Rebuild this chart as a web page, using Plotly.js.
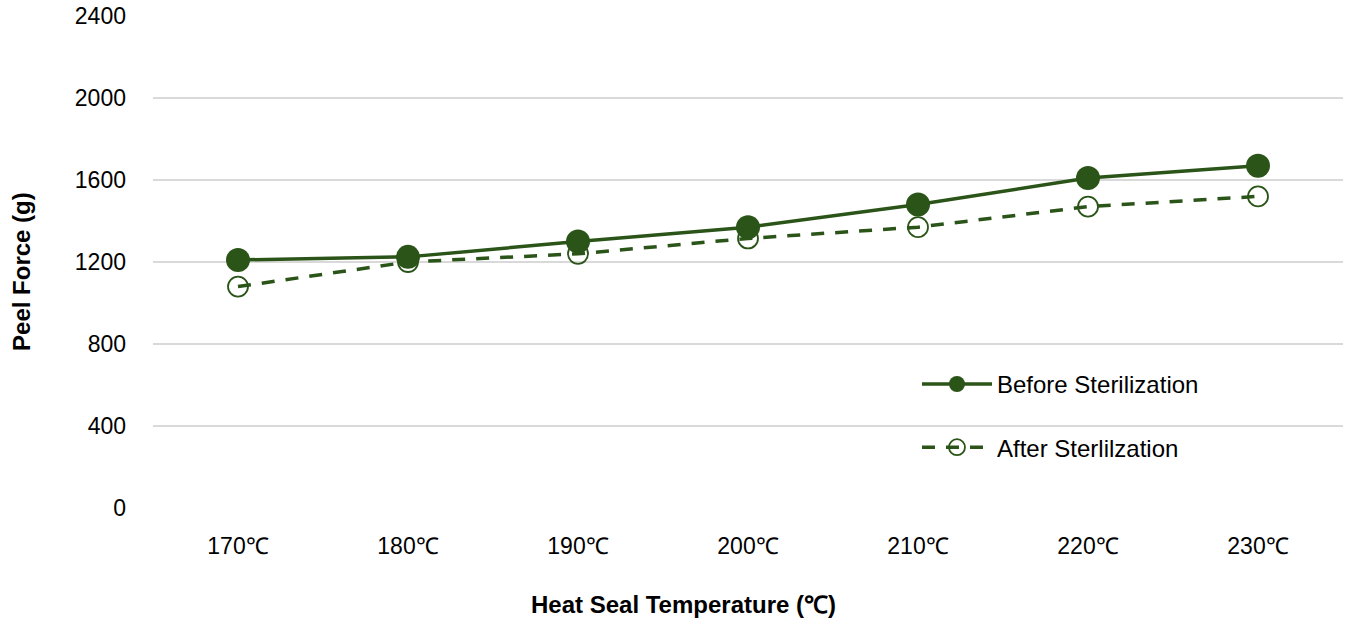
<!DOCTYPE html>
<html>
<head>
<meta charset="utf-8">
<script src="https://cdn.plot.ly/plotly-3.0.1.min.js"></script>
<style>html,body{margin:0;padding:0;background:#fff;}#chart{width:1346px;height:620px;}</style>
</head>
<body>
<div id="chart"></div>
<script>
const categories = ["170℃", "180℃", "190℃", "200℃", "210℃", "220℃", "230℃"];
const beforeValues = [1210, 1225, 1300, 1370, 1480, 1610, 1670];
const afterValues = [1080, 1200, 1240, 1315, 1370, 1470, 1520];
const yTickValues = [0, 400, 800, 1200, 1600, 2000, 2400];
const seriesNames = ["Before Sterilization", "After Sterlilzation"];
const xTitle = "Heat Seal Temperature (℃)";
const yTitle = "Peel Force (g)";

const green = "#2a5418";
const font = "'Liberation Sans', Arial, sans-serif";

const traces = [
  {
    x: categories, y: beforeValues, name: seriesNames[0], type: "scatter", mode: "lines+markers",
    line: {color: green, width: 3.5},
    marker: {color: green, size: 24, line: {width: 0}},
    legendgroup: "a"
  },
  {
    x: categories, y: afterValues, name: seriesNames[1], type: "scatter", mode: "lines+markers",
    line: {color: green, width: 3.5, dash: "13px,11px"},
    marker: {color: green, size: 20, symbol: "circle-open", line: {color: green, width: 1.8}},
    legendgroup: "b"
  }
];

const layout = {
  width: 1346, height: 620,
  margin: {l: 153, r: 3, t: 16, b: 112},
  paper_bgcolor: "#fff", plot_bgcolor: "#fff",
  font: {family: font, color: "#000", size: 23},
  showlegend: true,
  legend: {
    x: 0.642, y: 0.297, xanchor: "left", yanchor: "top",
    font: {family: font, size: 24, color: "#000"},
    tracegroupgap: 29, itemwidth: 70,
    bgcolor: "rgba(0,0,0,0)"
  },
  xaxis: {
    type: "category",
    range: [-0.5, 6.5],
    showgrid: false, zeroline: false, showline: false,
    ticks: "", tickfont: {family: font, size: 23, color: "#000"},
    ticklabelstandoff: 22
  },
  yaxis: {
    range: [0, 2400],
    tickvals: yTickValues, ticktext: yTickValues.map(String),
    showgrid: true, gridcolor: "#d9d9d9", gridwidth: 1.5,
    zeroline: false, showline: false, ticks: "",
    tickfont: {family: font, size: 23, color: "#000"},
    ticklabelstandoff: 26
  },
  annotations: [
    {
      text: "<b>" + xTitle + "</b>", xref: "paper", yref: "paper",
      x: 0.4454, y: -0.197, xanchor: "center", yanchor: "middle",
      showarrow: false, font: {family: font, size: 24, color: "#000"}
    },
    {
      text: "<b>" + yTitle + "</b>", xref: "paper", yref: "paper",
      x: -0.110, y: 0.48, xanchor: "center", yanchor: "middle", textangle: -90,
      showarrow: false, font: {family: font, size: 24, color: "#000"}
    }
  ]
};

Plotly.newPlot("chart", traces, layout, {displayModeBar: false, staticPlot: true});
</script>
</body>
</html>
